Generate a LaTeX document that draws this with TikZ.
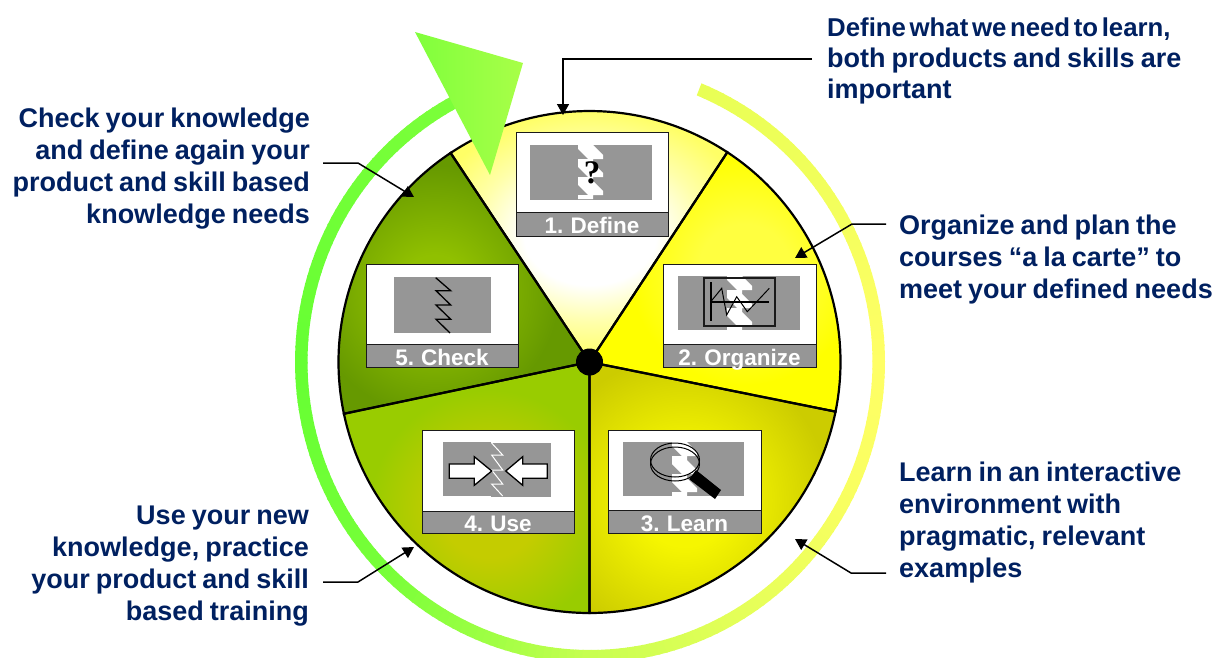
\documentclass[tikz,border=0pt]{standalone}
\usepackage{fontspec}
\setmainfont[WordSpace=0.8]{Liberation Sans}
\newfontfamily\qfont{Liberation Serif}
\usetikzlibrary{arrows.meta}
\definecolor{navy}{HTML}{002060}
\definecolor{cardgrey}{HTML}{969696}
\definecolor{cardline}{HTML}{1A1A1A}
\definecolor{oneA}{HTML}{FFFFAA}
\definecolor{oneB}{HTML}{FFFF66}
\definecolor{twoA}{HTML}{FFFF40}
\definecolor{twoB}{HTML}{FFFF00}
\definecolor{thrA}{HTML}{F6F600}
\definecolor{thrB}{HTML}{CCCC00}
\definecolor{fouA}{HTML}{C4CC00}
\definecolor{fouB}{HTML}{99CC00}
\definecolor{fivA}{HTML}{90C000}
\definecolor{fivB}{HTML}{669900}
\definecolor{rgA}{HTML}{7CFF3A}
\definecolor{rgB}{HTML}{66FF33}
\definecolor{rgC}{HTML}{77FF38}
\definecolor{rgD}{HTML}{A0FF44}
\definecolor{rgE}{HTML}{C8FF50}
\definecolor{rgF}{HTML}{E4FF58}
\definecolor{rgG}{HTML}{F8FF60}
\definecolor{rgH}{HTML}{FFFF66}
\definecolor{rgI}{HTML}{F0FF5A}
\definecolor{rgJ}{HTML}{E8FF55}
\definecolor{headA}{HTML}{80FF3C}
\definecolor{headB}{HTML}{A8FF48}
\pgfdeclareradialshading{sone}{\pgfpointorigin}{color(0bp)=(white); color(10bp)=(white); color(17.5bp)=(oneA); color(25bp)=(oneB); color(50bp)=(oneB)}
\pgfdeclareradialshading{stwo}{\pgfpointorigin}{color(0bp)=(twoA); color(10bp)=(twoA); color(25bp)=(twoB); color(50bp)=(twoB)}
\pgfdeclareradialshading{sthr}{\pgfpointorigin}{color(0bp)=(thrA); color(8bp)=(thrA); color(25bp)=(thrB); color(50bp)=(thrB)}
\pgfdeclareradialshading{sfou}{\pgfpointorigin}{color(0bp)=(fouA); color(10bp)=(fouA); color(25bp)=(fouB); color(50bp)=(fouB)}
\pgfdeclareradialshading{sfiv}{\pgfpointorigin}{color(0bp)=(fivA); color(7bp)=(fivA); color(25bp)=(fivB); color(50bp)=(fivB)}
\tikzset{
  callout/.style={font=\fontsize{27}{32}\selectfont\bfseries,text=navy,inner sep=0pt},
  cardbox/.style={draw=cardline,line width=1.4pt,fill=white,inner sep=0pt,anchor=north west},
  cardbar/.style={draw=cardline,line width=1.4pt,fill=cardgrey,inner sep=0pt,anchor=north west},
  cardlabel/.style={font=\fontsize{22.5}{24}\selectfont\bfseries,text=white,inner sep=0pt,anchor=base},
  leader/.style={draw=black,line width=1.5pt,-{Triangle[length=11pt,width=12pt]}},
  wheelline/.style={draw=black,line width=2.2pt},
  greyfill/.style={fill=cardgrey},
  jagfill/.style={fill=white},
  icon/.style={draw=black,line width=1.3pt,line join=miter}
}
\newcommand\ringpiece[4]{%
  \pgfmathtruncatemacro\nseg{max(1,(#2-#1)/1.5)}%
  \foreach \i in {1,...,\nseg}{%
    \pgfmathsetmacro\ta{#1+(\i-1)*(#2-#1)/\nseg}%
    \pgfmathsetmacro\tb{#1+\i*(#2-#1)/\nseg+0.3}%
    \pgfmathtruncatemacro\pc{100*(\i-0.5)/\nseg}%
    \fill[color={#4!\pc!#3}] (\ta:295 and 301) -- (\tb:295 and 301) -- (\tb:282.5 and 288) -- (\ta:282.5 and 288) -- cycle;
  }%
}
\newcommand\wheelsector[7]{%
  \begin{scope}
    \clip (0,0) -- (#1:251) arc[start angle=#1,end angle=#2,radius=251pt] -- cycle;
    \fill[#3] (-260,-260) rectangle (260,260);
    \shade[shading=#4] (#5,#6) circle (#7);
  \end{scope}
}
\newcommand\wheeledge[2]{\draw[wheelline] (0,0) -- (#1:251) arc[start angle=#1,end angle=#2,radius=251pt] -- cycle;}
\newcommand\card[8]{%
  \pgfmathsetmacro\cw{#4-#2}\pgfmathsetmacro\chA{#6-#3}\pgfmathsetmacro\chB{#5-#6}\pgfmathsetmacro\cm{(#2+#4)/2}%
  \node[cardbox,minimum width=\cw pt,minimum height=\chA pt] (card#1) at (#2,#3) {};
  \node[cardbar,minimum width=\cw pt,minimum height=\chB pt] (bar#1) at (#2,#6) {};
  \node[cardlabel] (label#1) at (\cm,#8) {#7};
}
\newcommand\jag[2]{%
  \fill[jagfill,shift={(#1,#2)}] (0,0) -- (0,4) -- (10,14) -- (0,14) -- (0,22) -- (10,32) -- (0,32) -- (0,40) -- (10,50) -- (0,50) -- (0,54)
    -- (15,54) -- (15,50) -- (25,50) -- (25,46) -- (15,36) -- (15,32) -- (25,32) -- (25,28) -- (15,18) -- (15,14) -- (25,14) -- (25,10) -- (15,0) -- cycle;
}
\begin{document}
\begin{tikzpicture}[x=1pt,y=-1pt]
\useasboundingbox (0,0) rectangle (1230,657);
\clip (0,0) rectangle (1230,657);
% ring
\begin{scope}[shift={(590,362)},y=1pt]
  \ringpiece{116}{180}{rgA}{rgB}
  \ringpiece{180}{225}{rgB}{rgC}
  \ringpiece{225}{250}{rgC}{rgD}
  \ringpiece{250}{270}{rgD}{rgE}
  \ringpiece{270}{300}{rgE}{rgF}
  \ringpiece{300}{330}{rgF}{rgG}
  \ringpiece{330}{360}{rgG}{rgH}
  \ringpiece{360}{400}{rgH}{rgI}
  \ringpiece{400}{427.5}{rgI}{rgJ}
\end{scope}
% wheel
\begin{scope}[shift={(589.5,362)},y=1pt]
  \wheelsector{56.7}{123.6}{oneB}{sone}{0.5}{127}{165pt and 125pt}
  \wheelsector{-11.4}{56.7}{twoB}{stwo}{155}{92}{115pt}
  \wheelsector{-90}{-11.4}{thrB}{sthr}{95}{-138}{145pt}
  \wheelsector{191.9}{270}{fouB}{sfou}{-100}{-148}{120pt}
  \wheelsector{123.6}{191.9}{fivB}{sfiv}{-155}{72}{125pt}
  \wheeledge{56.7}{123.6}
  \wheeledge{-11.4}{56.7}
  \wheeledge{-90}{-11.4}
  \wheeledge{191.9}{270}
  \wheeledge{123.6}{191.9}
\end{scope}
\fill[black] (589.5,362) circle (13.5pt);
% arrow head
\path[left color=headA,right color=headB] (415,32) -- (523,63) -- (490,175) -- cycle;
% cards
\card{1}{516}{132}{668}{236}{212}{1. Define}{233}
\card{2}{663}{264}{816}{367}{344}{2. Organize}{365}
\card{3}{608}{430}{761}{533}{510}{3. Learn}{531}
\card{4}{422}{430}{574}{533}{511}{4. Use}{531}
\card{5}{366}{264}{518}{367}{344}{5. Check}{365}
% icon 1
\fill[greyfill] (530,145) rectangle (652,200);
\jag{578}{145}
\node[font=\qfont\fontsize{33}{33}\selectfont\bfseries,inner sep=0pt] (qmark) at (592,173) {?};
% icon 2
\fill[greyfill] (678,276) rectangle (800,330);
\jag{727}{276}
\draw[icon,draw=cardline] (704,278) rectangle (775,326);
\draw[icon,line width=1.6pt] (710.7,282) -- (710.7,321);
\draw[icon,line width=1.6pt] (711,302) -- (769,302);
\draw[icon,line width=1pt] (710.7,301.7) -- (721.7,288.3) -- (726.7,315) -- (736.7,296.7) -- (747.3,311.7) -- (769.3,288.3);
% icon 3
\fill[greyfill] (623,442) rectangle (744,496);
\jag{672}{442}
\draw[icon,line width=1pt] (675,460) ellipse (24.5pt and 17pt);
\draw[icon,line width=1pt] (675,464) ellipse (24.5pt and 17pt);
\fill[black] (696,470) -- (721,490) -- (715,499) -- (689.3,479.3) -- cycle;
% icon 4
\fill[greyfill] (443,442) rectangle (491,496);
\fill[greyfill] (491,443) rectangle (551,497);
\draw[white,line width=1pt] (491.6,443) -- (502.7,455) -- (491.6,455) -- (502.7,470) -- (491.6,470) -- (502.7,484) -- (491.6,484) -- (502.7,496);
\draw[icon,fill=white] (449.3,464) -- (474.3,464) -- (474.3,456.7) -- (491.7,471) -- (474.3,485.3) -- (474.3,478.3) -- (449.3,478.3) -- cycle;
\draw[icon,fill=white] (547.3,464) -- (522.7,464) -- (522.7,456.7) -- (505.7,471) -- (522.7,485.3) -- (522.7,478.3) -- (547.3,478.3) -- cycle;
% icon 5
\fill[greyfill] (394,277) rectangle (491,333);
\draw[icon] (435.7,277.7) -- (450.7,290.7) -- (436,290.7) -- (450.7,305) -- (436,305) -- (450.7,319.3) -- (436,319.3) -- (450,333);
% callouts
\node[callout,anchor=north west,align=left] (defineText) at (827,18) {{\fontsize{25.8}{32}\selectfont\spaceskip=3.6pt Define what we need to learn,}\\[-1pt]both products and skills are\\[-1pt]important};
\node[callout,anchor=north west,align=left] (organizeText) at (899,215) {Organize and plan the\\courses “a la carte” to\\meet your defined needs};
\node[callout,anchor=north west,align=left] (learnText) at (899,462) {Learn in an interactive\\environment with\\pragmatic, relevant\\examples};
\node[callout,anchor=north east,align=right] (useText) at (309,505.5) {Use your new\\knowledge, practice\\your product and skill\\based training};
\node[callout,anchor=north east,align=right] (checkText) at (310,108) {Check your knowledge\\and define again your\\product and skill based\\knowledge needs};
% leaders
\coordinate (d0) at (812,59); \coordinate (d1) at (563,59); \coordinate (d2) at (563,115);
\coordinate (o0) at (886,224); \coordinate (o1) at (852,224); \coordinate (o2) at (795,258);
\coordinate (l0) at (886,573); \coordinate (l1) at (851,573); \coordinate (l2) at (795,539);
\coordinate (u0) at (323,582); \coordinate (u1) at (358,582); \coordinate (u2) at (414,547);
\coordinate (c0) at (323,163); \coordinate (c1) at (358,163); \coordinate (c2) at (414,197);
\draw[leader] (d0) -- (d1) -- (d2);
\draw[leader] (o0) -- (o1) -- (o2);
\draw[leader] (l0) -- (l1) -- (l2);
\draw[leader] (u0) -- (u1) -- (u2);
\draw[leader] (c0) -- (c1) -- (c2);
\end{tikzpicture}
\end{document}
